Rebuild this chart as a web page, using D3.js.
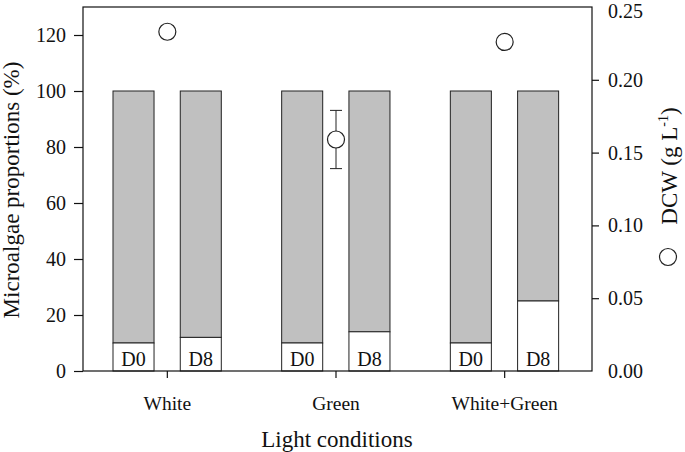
<!DOCTYPE html>
<html>
<head>
<meta charset="utf-8">
<script src="https://cdn.jsdelivr.net/npm/d3@7"></script>
<style>
  body { margin: 0; background: #fff; }
  text { font-family: "Liberation Serif", "Times New Roman", serif; fill: #111; }
</style>
</head>
<body>
<script>
// chart data
var categories = ["White", "Green", "White+Green"];
var days = ["D0", "D8"];
// lower (white) part of each bar, % of microalgae
var lowerShare = [[10, 12], [10, 14], [10, 25]];
var totalShare = 100;
// dry cell weight and its error
var dcw = [0.233, 0.159, 0.226];
var dcwErr = [0.003, 0.020, 0.003];
var leftTicks = [0, 20, 40, 60, 80, 100, 120];
var rightTicks = [0, 0.05, 0.10, 0.15, 0.20, 0.25];

var totalWidth = 685, totalHeight = 452;
var plot = {left: 83, right: 592, top: 7, bottom: 371};

var barColor = "#c0c0c0";

var svg = d3.select("body").append("svg")
    .attr("width", totalWidth)
    .attr("height", totalHeight);

// scales
var xScale = d3.scaleBand()
    .domain(categories)
    .range([plot.left, 589]);

var dayScale = d3.scaleBand()
    .domain(days)
    .range([30, 138.3])
    .paddingInner(0.39);

var yLeft = d3.scaleLinear()
    .domain([0, 130])
    .range([plot.bottom, plot.top]);

var yRight = d3.scaleLinear()
    .domain([0, 0.25])
    .range([plot.bottom, plot.top]);

// bars
var barData = [];
categories.forEach(function (c, i) {
    days.forEach(function (d, j) {
        barData.push({cat: c, day: d, low: lowerShare[i][j]});
    });
});

var g = svg.append("g");

g.selectAll(".topBar")
    .data(barData)
    .enter()
    .append("rect")
    .attr("x", d => xScale(d.cat) + dayScale(d.day))
    .attr("width", dayScale.bandwidth())
    .attr("y", yLeft(totalShare))
    .attr("height", d => yLeft(d.low) - yLeft(totalShare))
    .attr("fill", barColor)
    .attr("stroke", "#222")
    .attr("stroke-width", 1);

g.selectAll(".lowBar")
    .data(barData)
    .enter()
    .append("rect")
    .attr("x", d => xScale(d.cat) + dayScale(d.day))
    .attr("width", dayScale.bandwidth())
    .attr("y", d => yLeft(d.low))
    .attr("height", d => yLeft(0) - yLeft(d.low))
    .attr("fill", "#fff")
    .attr("stroke", "#222")
    .attr("stroke-width", 1);

g.selectAll(".dayLabel")
    .data(barData)
    .enter()
    .append("text")
    .attr("x", d => xScale(d.cat) + dayScale(d.day) + dayScale.bandwidth() / 2)
    .attr("y", plot.bottom - 5)
    .attr("text-anchor", "middle")
    .attr("font-size", 20)
    .text(d => d.day);

// frame
svg.append("rect")
    .attr("x", plot.left)
    .attr("y", plot.top)
    .attr("width", plot.right - plot.left)
    .attr("height", plot.bottom - plot.top)
    .attr("fill", "none")
    .attr("stroke", "#111")
    .attr("stroke-width", 1.2);

// DCW points with error bars
var cx = d => xScale(d.cat) + xScale.bandwidth() / 2;
var dcwData = categories.map((c, i) => ({cat: c, v: dcw[i], e: dcwErr[i]}));

var errs = g.selectAll(".err").data(dcwData).enter().append("g");
errs.append("line")
    .attr("x1", cx).attr("x2", cx)
    .attr("y1", d => yRight(d.v + d.e))
    .attr("y2", d => yRight(d.v - d.e))
    .attr("stroke", "#222");
[1, -1].forEach(function (s) {
    errs.append("line")
        .attr("x1", d => cx(d) - 6).attr("x2", d => cx(d) + 6)
        .attr("y1", d => yRight(d.v + s * d.e))
        .attr("y2", d => yRight(d.v + s * d.e))
        .attr("stroke", "#222");
});
g.selectAll(".dot")
    .data(dcwData)
    .enter()
    .append("circle")
    .attr("cx", cx)
    .attr("cy", d => yRight(d.v))
    .attr("r", 8.5)
    .attr("fill", "#fff")
    .attr("stroke", "#222")
    .attr("stroke-width", 1.2);

// axes
var leftAxis = svg.append("g")
    .attr("transform", "translate(" + plot.left + ",0)")
    .call(d3.axisLeft(yLeft).tickValues(leftTicks).tickSize(9).tickPadding(8));

var rightAxis = svg.append("g")
    .attr("transform", "translate(" + plot.right + ",0)")
    .call(d3.axisRight(yRight).tickValues(rightTicks).tickSize(7).tickPadding(9)
        .tickFormat(d3.format(".2f")));

var bottomAxis = svg.append("g")
    .attr("transform", "translate(0," + plot.bottom + ")")
    .call(d3.axisBottom(xScale).tickSize(7).tickPadding(18));

[leftAxis, rightAxis, bottomAxis].forEach(function (a) {
    a.select(".domain").remove();
    a.selectAll("line").attr("stroke", "#111").attr("stroke-width", 1.2);
    a.selectAll("text").attr("font-size", 20).attr("fill", "#111");
});
bottomAxis.selectAll("text").attr("font-size", 19.5);
rightAxis.selectAll("line").filter(d => d === 0 || d === 0.25).remove();
rightAxis.selectAll("text").filter(d => d === 0.25).attr("dy", "0.5em");

// axis titles
svg.append("text")
    .attr("transform", "translate(19,190) rotate(-90)")
    .attr("text-anchor", "middle")
    .attr("font-size", 23)
    .text("Microalgae proportions (%)");

svg.append("text")
    .attr("x", 337)
    .attr("y", 447)
    .attr("text-anchor", "middle")
    .attr("font-size", 23)
    .text("Light conditions");

// right legend: marker and title
svg.append("circle")
    .attr("cx", 668)
    .attr("cy", 257)
    .attr("r", 8.5)
    .attr("fill", "#fff")
    .attr("stroke", "#222")
    .attr("stroke-width", 1.2);

var dcwTitle = svg.append("text")
    .attr("transform", "translate(677,166) rotate(-90)")
    .attr("text-anchor", "middle")
    .attr("font-size", 23);
dcwTitle.append("tspan").text("DCW (g L");
dcwTitle.append("tspan").attr("font-size", 14).attr("dy", -9).text("-1");
dcwTitle.append("tspan").attr("dy", 9).text(")");
</script>
</body>
</html>
